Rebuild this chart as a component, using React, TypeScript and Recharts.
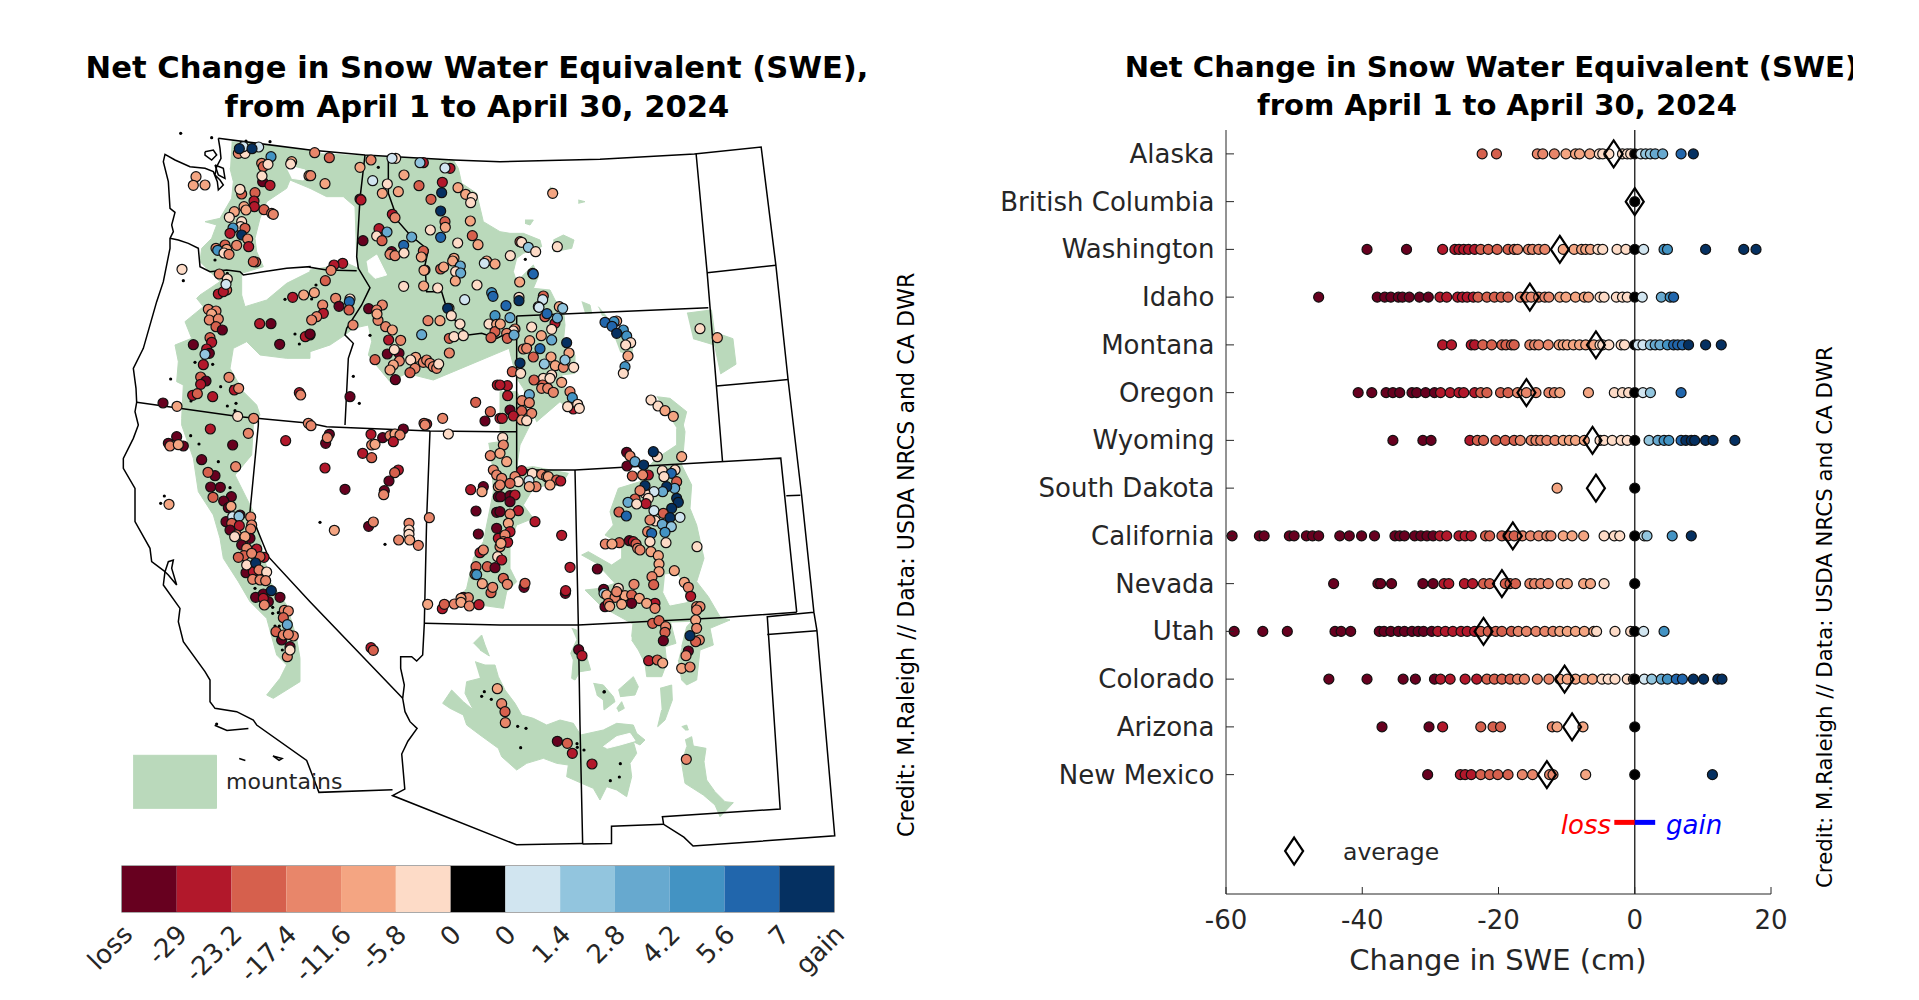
import React from "react";
import { BarChart, Bar, ScatterChart, Scatter, XAxis, YAxis, ReferenceLine, ReferenceArea } from "recharts";

const FONT = "'DejaVu Sans', sans-serif";
const INK = "#262626";
const GREEN = "#bad9bb";

// ---------- colour classes ----------
const binColors = ["#67001f", "#b2182b", "#d6604d", "#e8866a", "#f4a582", "#fddbc7", "#000000", "#d1e5f0", "#92c5de", "#67a9cf", "#4393c3", "#2166ac", "#053061"];
const binLabels = ["loss", "-29", "-23.2", "-17.4", "-11.6", "-5.8", "0", "0", "1.4", "2.8", "4.2", "5.6", "7", "gain"];

// ---------- map sheets (map units are sub-divided per sheet) ----------
const sheets: Record<string, number[]> = {
  A: [360, 375, 1, 1], B: [930, 375, 1, 1], C: [1500, 375, 1, 1],
  D: [360, 1275, 1, 1], E: [930, 1275, 1, 1], F: [1500, 1275, 1, 1],
  G: [1290, 1860, 1, 1],
  Z: [0, 0, 1.84, 1.917],
};
type Seg = [string, number[][]];
const place = (segs: Seg[]) => segs.flatMap(([s, pts]) => pts.map(([x, y]) => {
  const o = sheets[s];
  return { x: o[0] + x * o[2], y: o[1] + y * o[3] };
}));

// ---------- mountains ----------
const mountainAreas: Seg[][] = [
  [["A", [[335,50],[570,75],[570,190],[510,165],[500,190],[440,230],[420,280],[405,340],[410,380],[430,425],[365,445],[365,510],[375,545],[440,525],[500,475],[570,440]]],
   ["B", [[0,435],[60,425],[100,410],[145,430],[180,480],[180,540],[150,590],[110,605],[105,630],[60,660],[0,680]]],
   ["A", [[570,700],[500,700],[420,690],[380,650],[340,670],[330,730],[370,800],[410,840],[420,870],[400,900]]],
   ["D", [[395,90],[345,150],[360,180],[390,240],[400,260],[450,470],[500,540],[530,640],[540,700],[540,770],[460,820],[440,810],[480,760],[500,720],[470,690],[440,580],[390,530],[355,470],[310,400],[300,340],[280,270],[235,200],[220,100],[185,0]]],
   ["A", [[185,880],[190,780],[170,770],[175,710],[165,660],[215,640],[195,590],[250,545],[230,520],[240,510],[300,470],[270,440],[240,410],[245,370],[275,340],[290,300],[255,290],[300,280],[335,220],[340,170],[330,130]]]],
  [["B", [[0,85],[430,105],[445,130],[455,175],[500,205],[520,290],[570,320]]],
   ["C", [[30,325],[70,325],[120,345],[125,365],[70,385],[50,400],[40,440],[50,470],[100,420],[115,455],[100,490],[150,495],[165,525],[190,550],[195,600],[190,650],[225,690],[225,745],[185,750],[200,810],[250,860],[215,860],[180,830],[110,890],[70,790],[50,760],[27,670]]],
   ["B", [[430,740],[370,765],[290,745],[240,770],[190,710],[175,690],[185,650],[175,600],[130,610],[105,630],[110,600],[150,590],[180,540],[180,480],[145,430],[140,395],[135,245],[100,215],[50,215],[0,190]]]],
  [["E", [[535,55],[570,50]]], ["C", [[0,800],[50,800],[100,880]]],
   ["F", [[60,60],[50,130],[100,125],[205,145],[190,170],[100,190],[70,240],[100,280],[50,300],[30,350],[30,430],[50,470],[20,500],[10,550]]],
   ["E", [[440,530],[470,490],[490,400],[520,350],[530,300],[550,200],[545,120]]]],
  [["C", [[470,815],[510,820],[560,860],[550,900]]],
   ["F", [[555,20],[550,80],[545,120],[575,180],[570,250],[590,300],[612,400],[590,470],[625,515],[660,575],[690,585],[395,595],[305,545],[255,495],[300,490],[345,475],[290,415],[245,390],[265,380],[335,420],[365,400],[365,360],[315,330],[340,300],[330,260],[355,190],[420,170],[440,130],[470,100],[530,60],[530,10]]]],
  [["G", [[135,125],[165,135],[195,135],[205,170],[225,210],[255,250],[275,285],[310,295],[350,315],[390,300],[430,310],[452,345],[520,330],[560,310],[610,315],[620,340],[645,360],[630,375],[610,365],[620,400],[600,430],[605,470],[590,530],[560,510],[530,500],[510,540],[490,505],[455,490],[410,470],[415,435],[380,430],[340,415],[290,430],[260,450],[215,410],[205,385],[150,345],[110,315],[100,285],[60,265],[38,250],[65,210],[100,245],[130,270],[105,220],[110,185],[150,175]]]],
  [["G", [[130,70],[155,45],[165,75],[178,108],[150,90]]]],
  [["G", [[425,25],[440,30],[445,100],[470,110],[482,150],[450,155],[435,180],[425,175],[430,120],[422,100],[440,60]]]],
  [["G", [[490,190],[520,195],[550,230],[555,245],[522,270],[520,240],[500,225]]]],
  [["G", [[565,210],[610,170],[625,200],[615,225],[570,230]]]],
  [["G", [[560,265],[575,245],[583,265],[565,275]]]],
  [["G", [[690,205],[725,195],[727,240],[705,300],[683,320],[695,270]]]],
  [["G", [[755,320],[770,315],[775,330],[765,330]]]],
  [["G", [[765,360],[785,350],[790,378],[828,385],[822,425],[830,480],[855,515],[885,545],[910,548],[870,590],[855,555],[820,525],[765,490],[755,430],[770,380]]]],
  [["G", [[605,50],[610,0],[720,0],[738,70],[705,80],[710,130],[695,170],[650,170],[645,130],[625,90],[605,60]]]],
  [["G", [[755,80],[770,20],[790,0],[900,0],[840,25],[850,75],[810,90],[800,180],[770,195],[755,180],[745,120]]]],
  [["Z", [[1120,490],[1160,485],[1165,520],[1195,530],[1200,570],[1175,585],[1165,540],[1130,530]]]],
  [["C", [[150,185],[175,205],[155,220],[145,200]]]],
  [["C", [[75,285],[100,285],[90,300],[75,295]]]],
  [["C", [[160,345],[190,330],[222,345],[215,370],[160,380]]]],
  [["C", [[235,225],[255,230],[235,235]]]],
  [["C", [[245,530],[270,540],[275,565],[255,565]]]],
  [["C", [[295,545],[320,575],[305,570]]]],
  [["C", [[330,600],[400,650],[395,690],[360,680]]]],
  [["Z", [[217,1182],[353,1182],[353,1265],[217,1265]]]],
];
const mountainHoles: Seg[][] = [
  [["B", [[170,410],[200,390],[230,450],[195,460],[175,440]]]],
  [["A", [[495,120],[555,135],[550,165],[515,160]]]],
  [["F", [[495,450],[530,445],[545,470],[560,530],[510,540],[490,500]]]],
  [["G", [[520,380],[560,350],[600,340],[615,362],[570,375],[530,385]]]],
];

// ---------- state lines and shores ----------
const borderLines: Seg[][] = [
  [["A", [[295,40],[570,75]]], ["B", [[165,90],[430,105],[570,110]]], ["C", [[300,103],[583,87]]], ["Z", [[1241,230],[1265,415],[1285,595],[1307,775],[1327,958],[1332,987],[1361,1308],[1130,1324],[1115,1310],[1082,1290],[1080,1278],[1272,1266],[1251,965],[1327,958]]]],
  [["Z", [[1251,993],[1332,987]]]],
  [["Z", [[1082,1290],[997,1293],[997,1320],[950,1321]]]],
  [["A", [[295,40],[300,70],[303,100],[290,125],[285,150],[300,165],[310,180],[295,195],[292,170],[280,140],[255,130],[210,125],[165,105],[135,88],[130,110],[145,170],[150,250],[165,262],[155,300],[160,320],[150,340],[150,370],[130,470],[110,530],[70,670],[40,730],[48,790],[50,832],[45,860]]],
   ["D", [[55,0],[40,40],[10,100],[10,130],[45,190],[45,290],[90,370],[95,410],[135,440],[130,480],[180,550],[175,590],[190,650],[255,740],[270,765],[270,830],[285,850],[350,860],[400,885],[410,900]]],
   ["Z", [[500,1190],[520,1240],[640,1236]]]],
  [["A", [[255,80],[280,75],[290,90],[275,105],[255,90],[255,80]]]],
  [["A", [[285,120],[310,130],[315,160],[295,150],[285,120]]]],
  [["D", [[135,440],[145,410],[160,405],[155,430],[170,480],[145,450],[135,440]]]],
  [["Z", [[350,1135],[370,1143],[405,1140]]]],
  [["Z", [[390,1187],[400,1190]]]],
  [["Z", [[445,1183],[460,1187],[455,1190],[445,1183]]]],
  [["A", [[150,340],[175,345],[205,355],[235,370],[240,425],[270,440],[320,435],[360,440],[370,450],[430,440],[500,430],[570,425]]], ["B", [[0,427],[50,435],[140,437]]]],
  [["B", [[165,90],[150,220],[140,395],[145,430],[180,488],[155,540],[110,610],[105,630],[130,655],[115,700],[105,900]]]],
  [["A", [[50,832],[360,875],[570,895]]], ["E", [[50,5],[360,18],[570,20]]], ["F", [[50,20]]]],
  [["B", [[235,100],[235,205],[265,290],[300,330],[355,375],[345,420],[350,500],[395,500],[410,550],[445,600],[475,630],[515,625],[560,640]]], ["C", [[50,610]]]],
  [["C", [[50,573],[50,900]]], ["F", [[50,135],[225,135]]]],
  [["C", [[50,573],[625,548]]]],
  [["Z", [[1135,241],[1153,427],[1158,485],[1178,722]]]],
  [["Z", [[1153,427],[1265,415]]]],
  [["Z", [[1168,604],[1285,594]]]],
  [["F", [[225,135],[660,110]]], ["Z", [[1273,717],[1299,958]]]],
  [["Z", [[1282,776],[1305,775]]]],
  [["F", [[225,135],[235,600],[240,900]]], ["Z", [[950,1321]]]],
  [["E", [[343,595],[570,600]]], ["F", [[235,600],[660,578]]], ["Z", [[1299,958]]]],
  [["E", [[360,18],[350,280],[343,595],[338,690],[320,708],[305,695],[272,695],[272,730],[283,780],[278,820],[285,860],[300,890]]], ["Z", [[680,1140],[665,1160],[655,1180],[660,1235],[640,1245],[842,1322],[950,1320]]]],
  [["A", [[415,875]]], ["D", [[415,0],[390,260],[445,395],[570,530]]], ["E", [[278,820]]]],
];

// ---------- stations [x, y, class] per sheet ----------
const stationsA = [[182,25,6],[275,38,6],[450,50,6],[378,48,6],[285,405,6],[190,467,6],[322,445,6],[495,523,6],[225,712,6],[278,718,6],[152,762,6],[302,785,6],[525,627,6],[538,657,6],[335,785,6],[322,843,6],[348,835,6],[345,857,6],[213,828,6],
[355,85,3],[375,85,5],[370,65,7],[416,66,7],[358,71,12],[396,71,12],[453,95,10],[425,115,3],[430,125,2],[444,118,5],[515,110,4],[512,117,5],[567,152,4],[428,170,0],[450,181,1],[426,153,5],[228,155,4],[220,181,4],[255,180,4],[365,207,2],[360,193,5],[405,203,2],[402,228,1],[403,245,1],[432,254,2],[455,265,3],[460,268,3],[372,245,4],[378,255,4],[343,260,4],[328,277,5],[365,290,5],[362,305,5],[375,310,2],[339,309,10],[330,325,1],[365,330,12],[383,342,3],[386,365,1],[350,361,3],[315,360,2],[320,373,4],[288,370,3],[293,376,10],[312,384,5],[327,388,3],[407,411,2],[400,410,2],[186,433,5],[298,447,3],[322,462,5],[320,495,2],[295,507,1],[310,500,1],[318,478,7],[518,517,1],[551,510,4],[265,553,3],[288,558,3],[275,567,4],[268,585,3],[295,582,3],[288,605,2],[307,615,0],[419,596,1],[453,596,0],[479,658,0],[570,630,0],[556,635,1],[270,638,2],[275,652,1],[220,659,0],[260,672,1],[268,685,0],[255,688,8],[250,719,1],[327,757,3],[242,756,2],[258,768,0],[242,778,1],[343,795,1],[356,790,3],[218,811,1],[232,806,2],[278,815,1],[538,803,1],[542,810,3],[129,834,0],[171,844,4],[353,874,5],[401,880,3],[565,895,3]];

const stationsB = [[205,127,6],[18,480,6],[5,522,6],[180,631,6],[130,754,6],[148,835,6],
[14,83,3],[58,98,2],[2,152,3],[45,176,4],[183,105,3],[150,127,4],[257,100,5],[246,100,7],[340,113,1],[330,113,8],[420,130,1],[405,129,7],[282,150,4],[188,167,7],[232,177,5],[217,205,4],[265,200,4],[327,182,2],[397,172,1],[395,203,12],[444,188,4],[467,208,4],[487,217,5],[482,233,5],[363,223,2],[150,222,0],[153,225,1],[392,258,12],[405,290,2],[406,307,4],[247,268,1],[255,278,3],[481,288,4],[361,315,5],[392,337,11],[207,311,1],[231,321,9],[200,333,5],[216,347,2],[305,336,9],[159,347,0],[487,332,2],[443,354,5],[504,359,4],[281,361,11],[245,380,0],[240,388,3],[255,392,3],[282,384,5],[340,378,2],[334,396,4],[432,400,4],[428,408,4],[530,408,4],[523,415,7],[555,417,4],[451,423,9],[437,440,5],[452,444,9],[392,432,2],[401,426,4],[345,435,0],[342,436,4],[98,415,1],[72,420,1],[63,436,3],[46,467,2],[13,503,4],[77,520,3],[38,540,3],[120,522,5],[118,530,11],[87,544,0],[117,555,2],[40,565,1],[20,575,3],[5,585,3],[436,468,4],[501,480,5],[281,484,5],[341,483,4],[383,489,5],[545,503,10],[549,514,11],[464,524,7],[417,550,5],[413,550,12],[176,551,0],[217,540,3],[200,555,3],[204,586,3],[201,567,4],[129,600,3],[424,572,5],[354,587,3],[390,587,4],[227,605,3],[247,615,4],[555,572,10],[537,597,5],[560,598,4],[450,597,5],[335,629,9],[555,620,2],[543,638,2],[272,646,3],[236,645,1],[418,640,2],[432,635,5],[460,632,5],[267,685,0],[232,687,0],[253,674,5],[418,684,3],[195,704,2],[268,708,3],[250,720,4],[240,735,4],[317,697,4],[302,705,5],[340,712,3],[350,705,3],[360,715,3],[370,725,3],[380,730,3],[386,717,5],[315,730,3],[300,743,2],[256,764,0],[120,815,0],[562,780,1],[497,832,2],[541,860,2],[398,880,3],[525,888,0],[570,880,1],[350,897,1],[342,895,2],[0,627,0]];

const stationsC = [[158,205,4],[60,350,2],[65,352,5],[85,367,8],[107,380,5],[31,392,5],[172,365,5],[76,403,6],[98,445,2],[100,447,11],[59,471,4],[130,513,2],[57,517,5],[57,527,12],[128,524,7],[115,545,5],[117,547,7],[18,542,11],[178,545,4],[188,550,8],[135,575,2],[141,566,11],[165,595,1],[172,579,9],[30,578,9],[1,597,4],[45,612,3],[40,618,5],[20,625,3],[22,640,2],[42,630,9],[95,606,5],[155,613,5],[124,632,4],[155,645,9],[200,653,12],[89,647,4],[70,672,3],[80,670,3],[120,671,11],[100,696,2],[207,684,4],[153,696,4],[60,714,12],[133,717,8],[166,722,4],[190,727,3],[195,705,8],[221,727,5],[37,740,2],[62,745,5],[155,750,5],[130,760,5],[150,760,5],[102,765,2],[185,772,4],[128,780,2],[125,790,3],[143,790,3],[160,802,3],[210,800,3],[217,818,10],[88,809,9],[22,782,1],[0,780,1],[23,812,1],[66,827,3],[88,833,3],[220,852,1],[203,845,5],[233,838,5],[238,850,5],[30,855,0],[65,858,2],[95,865,3],[7,880,1],[40,873,1],[65,885,4],[80,887,5],[350,588,4],[342,590,10],[315,592,11],[336,604,11],[370,615,10],[380,633,10],[350,625,12],[392,653,5],[377,660,5],[384,693,4],[375,725,10],[370,745,5],[453,825,5],[474,843,5],[495,857,4],[520,874,4],[600,611,5],[652,638,4]];

const stationsD = [[212,32,6],[237,57,6],[295,110,6],[330,188,6],[133,213,6],[122,235,6],[405,490,6],[458,547,6],[475,563,6],[458,565,6],[465,603,6],[478,603,6],[487,675,6],[290,897,6],
[271,12,1],[385,25,3],[497,47,1],[338,60,0],[170,35,0],[145,55,0],[190,63,0],[150,63,3],[175,59,4],[245,104,0],[347,125,3],[285,152,0],[264,142,2],[272,186,0],[301,187,0],[334,215,0],[279,217,2],[311,228,0],[147,238,4],[325,248,0],[333,244,4],[360,270,0],[318,290,0],[338,275,7],[357,274,8],[392,276,3],[395,300,3],[392,312,3],[335,295,2],[330,315,0],[358,302,1],[350,330,3],[390,340,0],[344,335,5],[375,335,4],[365,360,0],[410,372,1],[380,370,3],[372,392,2],[355,397,2],[432,397,1],[420,395,2],[395,385,3],[378,443,0],[400,440,1],[380,420,5],[407,414,12],[417,435,3],[440,441,5],[398,463,3],[420,465,3],[437,467,3],[407,517,0],[430,507,0],[480,517,0],[445,530,0],[430,520,1],[433,540,3],[454,497,12],[493,556,3],[505,558,3],[490,578,2],[502,599,9],[468,620,2],[485,645,0],[490,630,3],[520,633,3],[505,628,3],[510,665,0],[502,695,3],[510,675,5]];

const stationsE = [[30,292,6],[225,358,6],[3,2,3],[280,12,0],[183,28,1],[218,38,0],[240,32,3],[255,27,4],[270,30,3],[250,50,1],[47,55,0],[58,28,0],[52,38,3],[185,60,3],[195,58,4],[158,85,1],[185,98,2],[415,27,5],[345,0,3],[45,129,1],[105,193,0],[265,135,1],[254,143,2],[237,168,0],[223,197,0],[221,209,3],[358,278,3],[176,304,0],[190,291,3],[73,316,4],[297,295,3],[297,315,5],[297,328,5],[299,345,4],[266,345,3],[325,361,3],[482,194,1],[520,185,0],[516,200,4],[541,92,3],[550,135,3],[560,150,3],[565,185,4],[565,215,0],[498,258,0],[560,262,0],[505,327,0],[560,310,0],[510,383,1],[520,375,3],[565,340,1],[570,365,3],[563,395,5],[532,425,2],[555,428,0],[498,425,2],[495,448,3],[500,449,10],[517,476,4],[543,503,2],[548,487,3],[353,538,4],[397,551,1],[403,538,2],[433,537,3],[460,517,0],[475,518,3],[453,520,4],[453,532,4],[478,543,3],[507,539,1],[183,668,1],[190,676,2]];

const stationsF = [[8,38,5],[10,60,3],[20,110,4],[0,85,4],[65,137,1],[97,145,5],[45,155,3],[55,170,5],[87,167,7],[125,148,3],[140,155,3],[145,155,4],[170,165,2],[182,168,1],[150,180,4],[108,185,3],[88,185,4],[5,160,3],[30,175,2],[0,180,3],[2,215,0],[30,212,0],[45,210,1],[30,230,0],[55,257,1],[0,260,0],[30,267,3],[25,295,4],[105,290,1],[30,320,1],[15,330,3],[10,350,3],[23,352,1],[3,355,4],[185,331,1],[210,427,1],[5,405,1],[10,460,2],[22,478,3],[72,487,0],[75,475,2],[196,505,0],[197,497,1],
[380,82,0],[390,93,3],[381,123,0],[405,110,9],[431,120,12],[397,153,2],[445,150,1],[428,150,3],[472,95,5],[460,80,12],[545,95,4],[487,137,5],[525,135,5],[514,145,11],[492,155,5],[530,170,2],[524,190,9],[500,185,12],[488,200,9],[462,200,7],[435,205,5],[435,182,12],[445,220,5],[438,236,1],[420,197,3],[405,222,2],[384,232,9],[410,237,5],[357,261,2],[379,273,11],[530,220,12],[535,232,12],[515,250,12],[462,257,7],[490,265,2],[540,277,7],[510,278,12],[466,288,5],[450,285,3],[487,298,9],[514,305,8],[495,322,10],[443,320,3],[455,325,11],[450,350,5],[498,353,5],[591,365,5],[388,347,0],[400,350,1],[408,357,2],[358,353,2],[316,357,3],[336,357,4],[413,370,3],[420,375,3],[453,380,4],[475,392,4],[477,417,4],[292,432,0],[477,440,4],[456,455,3],[461,479,2],[523,437,4],[553,472,4],[565,487,3],[311,493,0],[312,505,8],[355,490,5],[402,478,3],[320,510,4],[345,517,3],[375,512,4],[395,510,2],[418,520,4],[350,500,3],[395,535,0],[365,538,4],[315,545,0],[325,535,2],[329,544,4],[465,535,1],[440,535,4],[465,550,3],[572,514,1],[590,545,3],[600,545,3],[590,555,3],[587,585,4],[458,595,2],[477,587,2],[497,605,3],[495,622,2],[490,647,0],[590,610,3],[598,645,3],[587,650,2],[570,632,12],[565,678,0],[558,692,3],[236,674,0],[246,692,1],[446,707,1],[472,705,2],[488,714,4],[545,730,4],[570,726,3],[313,800,6]];

const stationsG = [[163,215,6],[155,229,6],[184,238,6],[263,319,6],[288,325,6],[272,383,6],[441,371,6],[442,382,6],[462,390,6],[571,431,6],[568,471,6],[541,482,6],[522,216,6],
[202,206,4],[215,251,3],[225,275,2],[226,308,3],[382,364,0],[412,370,2],[427,400,1],[486,432,1],[769,418,3]];

const stationSheets: [string, number[][]][] = [["A", stationsA], ["B", stationsB], ["C", stationsC], ["D", stationsD], ["E", stationsE], ["F", stationsF], ["G", stationsG]];
const stations = stationSheets.flatMap(([s, list]) => list.map(([x, y, b]) => {
  const o = sheets[s];
  return { x: o[0] + x * o[2], y: o[1] + y * o[3], b };
}));

// ---------- right panel ----------
const regions = ["Alaska", "British Columbia", "Washington", "Idaho", "Montana", "Oregon", "Wyoming", "South Dakota", "California", "Nevada", "Utah", "Colorado", "Arizona", "New Mexico"];
const regionAverages = [-3.1, 0, -11, -15.4, -5.7, -15.9, -6.2, -5.7, -17.9, -19.5, -22.2, -10.3, -9.2, -12.9];

const alaska = [-22.4,-20.3,-14.3,-13.5,-11.8,-10.1,-8.7,-8.1,-6.6,-5.2,-4.7,-3.8,-1.8,-1.1,-0.6,0,0.9,1.6,2.3,3,4.1,6.8,8.6];
const britishColumbia = [0];
const washington = [-39.3,-33.5,-28.2,-26.4,-25.8,-25.1,-24.4,-23.5,-22.6,-21.5,-20.2,-18.6,-17.7,-17.2,-15.6,-15,-14.1,-13.2,-10.5,-8.9,-7.8,-7.2,-6.5,-5.4,-4.7,-2.6,-1.3,0,1.3,4.3,4.8,10.4,16,17.8];
const idaho = [-46.4,-37.8,-36.7,-35.8,-34.7,-34.1,-33.1,-31.6,-30.3,-28.6,-27.6,-26,-25.3,-24.6,-23.7,-23,-21.7,-20.6,-19.6,-18.6,-16.8,-15.9,-15.2,-14.1,-13.2,-12.6,-11,-10.1,-8.7,-7.4,-6.8,-5.1,-4.5,-2.7,-1.8,-1.1,0,1.1,3.9,5.2,5.7];
const montana = [-28.2,-26.9,-24,-23.5,-22.3,-21,-19.5,-18.9,-18.1,-17.7,-15.4,-14.7,-14.1,-12.7,-11.1,-10.5,-9.9,-9,-8.1,-7.2,-6,-5.1,-4.7,-3.8,-2,-1.5,0,0.5,1.2,2.3,3,3.7,4.8,5.7,6.3,7,7.9,10.4,12.7];
const oregon = [-40.6,-38.6,-36.5,-35.5,-34.5,-32.7,-32,-30.7,-29.4,-28.5,-27.1,-25.8,-25.1,-23.5,-22.6,-21.7,-19.7,-18.6,-17.2,-15.9,-14.5,-12.6,-11.8,-11,-6.8,-3,-1.8,-0.9,0,1.2,2.3,6.8];
const wyoming = [-35.5,-31.1,-29.9,-24.2,-23.1,-22.2,-20.4,-19,-17.7,-16.8,-15.2,-14.5,-13.8,-12.9,-11.7,-10.5,-9.6,-8.7,-7.4,-5.1,-4.5,-3.3,-2,-1.1,0,2.1,3.4,4.3,5,6.8,7.5,8.3,8.8,10.4,11.5,14.7];
const southDakota = [-11.4,0];
const california = [-59.1,-55.1,-54.4,-50.7,-50,-48.2,-47.3,-46.4,-43.3,-41.9,-40.1,-38.2,-35.2,-34.5,-33.8,-32.3,-31.4,-30.5,-29.6,-28.6,-27.6,-25.8,-24.9,-24,-21.9,-21.3,-19.5,-18.6,-17.7,-16.5,-15.3,-14.1,-12.9,-12.3,-10.5,-9.2,-7.5,-4.5,-3,-2.2,0,1.4,1.8,5.5,8.3];
const nevada = [-44.2,-37.7,-37.3,-35.7,-31.1,-29.6,-28,-27.3,-25,-23.8,-22.2,-21.3,-19,-18.3,-17.5,-15.4,-14.7,-13.8,-12.7,-10.8,-9.9,-7.5,-6.5,-4.5,0];
const utah = [-58.8,-54.6,-51,-44,-43.1,-41.7,-37.5,-36.8,-35.8,-34.7,-33.8,-32.7,-31.8,-31,-29.8,-28.9,-27.8,-26.7,-25.5,-24.6,-23.5,-22.6,-21.5,-20.4,-19.5,-18.1,-17.1,-15.9,-14.5,-13.2,-12,-11,-9.9,-8.7,-7.4,-6,-5.6,-2.9,-0.6,0,1.3,4.3];
const colorado = [-44.9,-39.3,-34,-32.2,-29.4,-28.5,-27.1,-24.9,-23.2,-21.7,-20.6,-19.5,-18.3,-17.2,-16.2,-14.3,-12.6,-11,-9.9,-8.7,-7.4,-6.2,-4.8,-3.9,-2.9,-1.1,-0.2,0,1.4,2.5,3.9,4.8,6.1,7,8.6,10.1,12.2,12.8];
const arizona = [-37.1,-30.2,-28.2,-22.6,-20.8,-19.7,-12.1,-11.4,-7.6,0];
const newMexico = [-30.4,-25.6,-24.9,-24,-22.6,-21.3,-20.1,-18.6,-16.5,-15,-12.5,-12,-7.2,0,11.4];
const regionValues = [alaska, britishColumbia, washington, idaho, montana, oregon, wyoming, southDakota, california, nevada, utah, colorado, arizona, newMexico];

const xTicks = [-60, -40, -20, 0, 20];
const binEdges = [-29, -23.2, -17.4, -11.6, -5.8];
const gainEdges = [1.4, 2.8, 4.2, 5.6, 7];
const binOf = (v: number) => {
  if (v === 0) return 6;
  if (v < 0) { const i = binEdges.findIndex((e) => v <= e); return i < 0 ? 5 : i; }
  const j = gainEdges.findIndex((e) => v <= e);
  return j < 0 ? 12 : 7 + j;
};

const Nothing = () => <g />;

const StationDot = (p: any) => {
  const b = p.payload?.b ?? p.b;
  if (b === 6) return <circle cx={p.cx} cy={p.cy} r={1.6} fill="#000" />;
  return <circle cx={p.cx} cy={p.cy} r={5} fill={binColors[b]} stroke="#111" strokeWidth={1.2} />;
};
const ValueDot = (p: any) => {
  const v = p.payload?.x ?? 0;
  return <circle cx={p.cx} cy={p.cy} r={5} fill={binColors[binOf(v)]} stroke="#111" strokeWidth={1.2} />;
};
const Diamond = (p: any) => (
  <path d={`M${p.cx} ${p.cy - 13.5}L${p.cx + 9} ${p.cy}L${p.cx} ${p.cy + 13.5}L${p.cx - 9} ${p.cy}Z`} fill="none" stroke="#000" strokeWidth={2.2} />
);

const MapChart = () => (
  <ScatterChart width={960} height={1000} margin={{ top: 0, right: 0, bottom: 0, left: 0 }} style={{ position: "absolute", left: 0, top: 0 }}>
    <XAxis type="number" dataKey="x" domain={[0, 2880]} hide allowDataOverflow />
    <YAxis type="number" dataKey="y" domain={[0, 3000]} reversed hide allowDataOverflow />
    {mountainAreas.map((a, i) => (
      <Scatter key={"m" + i} data={place(a)} isAnimationActive={false} shape={Nothing} line={{ fill: GREEN, stroke: GREEN, strokeWidth: 1 }} />
    ))}
    {mountainHoles.map((a, i) => (
      <Scatter key={"h" + i} data={place(a)} isAnimationActive={false} shape={Nothing} line={{ fill: "#ffffff", stroke: "#ffffff", strokeWidth: 1 }} />
    ))}
    {borderLines.map((a, i) => (
      <Scatter key={"b" + i} data={place(a)} isAnimationActive={false} shape={Nothing} line={{ fill: "none", stroke: "#000", strokeWidth: 1.5 }} />
    ))}
    <Scatter data={stations} isAnimationActive={false} shape={StationDot} />
  </ScatterChart>
);

const colorRow = [Object.fromEntries(binColors.map((_, i) => ["c" + i, 1]).concat([["name", "bar"] as any]))];
const colorTicks = binLabels.map((_, i) => i);
const ColorTick = (p: any) => (
  <text x={p.x + 12} y={p.y + 16} transform={`rotate(-45 ${p.x + 12} ${p.y + 16})`} textAnchor="end" fontFamily={FONT} fontSize={26} fill={INK}>
    {binLabels[p.payload.value]}
  </text>
);
const ColorBar = () => (
  <BarChart layout="vertical" width={850} height={130} data={colorRow} margin={{ top: 8, right: 76, bottom: 0, left: 62 }} barCategoryGap={0} style={{ position: "absolute", left: 60, top: 858 }}>
    <XAxis type="number" domain={[0, 13]} ticks={colorTicks} interval={0} height={76} tick={ColorTick} tickLine={false} axisLine={false} />
    <YAxis type="category" dataKey="name" hide />
    {binColors.map((c, i) => (
      <Bar key={c} dataKey={"c" + i} stackId="s" fill={c} isAnimationActive={false} />
    ))}
    <ReferenceArea x1={0} x2={13} fill="none" stroke="#555" strokeWidth={1.2} />
  </BarChart>
);

const YTick = (p: any) => (
  <g>
    <line x1={p.x + 8} x2={p.x + 16} y1={p.y} y2={p.y} stroke={INK} strokeWidth={1} />
    <text x={p.x - 3.5} y={p.y + 9} textAnchor="end" fontFamily={FONT} fontSize={26} fill={INK}>{regions[p.payload.value]}</text>
  </g>
);
const XTick = (p: any) => (
  <g>
    <line x1={p.x} x2={p.x} y1={p.y - 8} y2={p.y - 15} stroke={INK} strokeWidth={1} />
    <text x={p.x} y={p.y + 27} textAnchor="middle" fontFamily={FONT} fontSize={26} fill={INK}>{p.payload.value}</text>
  </g>
);

const rowIdx = regions.map((_, i) => i);
const DotsChart = () => (
  <ScatterChart width={959} height={1000} margin={{ top: 130, right: 148, bottom: 46, left: 26 }} style={{ position: "absolute", left: 960, top: 0 }}>
    <XAxis type="number" dataKey="x" domain={[-60, 20]} ticks={xTicks} interval={0} height={60} tick={XTick} tickLine={false} axisLine={{ stroke: INK }} />
    <YAxis type="number" dataKey="y" domain={[-0.5, 15.5]} ticks={rowIdx} interval={0} reversed width={240} tick={YTick} tickLine={false} axisLine={{ stroke: INK }} />
    <ReferenceLine x={0} stroke={INK} strokeWidth={1.4} />
    {regionValues.map((vals, i) => (
      <Scatter key={regions[i]} data={vals.map((x) => ({ x, y: i }))} isAnimationActive={false} shape={ValueDot} />
    ))}
    <Scatter data={regionAverages.map((x, i) => ({ x, y: i })).concat([{ x: -50, y: 14.6 }])} isAnimationActive={false} shape={Diamond} />
    <Scatter data={[{ x: -3, y: 14 }, { x: 0, y: 14 }]} isAnimationActive={false} shape={Nothing} line={{ stroke: "#ff0000", strokeWidth: 5 }} />
    <Scatter data={[{ x: 0, y: 14 }, { x: 3, y: 14 }]} isAnimationActive={false} shape={Nothing} line={{ stroke: "#0000ff", strokeWidth: 5 }} />
  </ScatterChart>
);

const Texts = () => (
  <svg width={1919} height={1000} style={{ position: "absolute", left: 0, top: 0, pointerEvents: "none" }} fontFamily={FONT}>
    <defs>
      <clipPath id="rt"><rect x={1000} y={30} width={853} height={110} /></clipPath>
    </defs>
    <g fontWeight="bold" fontSize={30.6} fill="#000" textAnchor="middle">
      <text x={477} y={78}>Net Change in Snow Water Equivalent (SWE),</text>
      <text x={477} y={117}>from April 1 to April 30, 2024</text>
    </g>
    <g fontWeight="bold" fontSize={29.1} fill="#000" textAnchor="middle" clipPath="url(#rt)">
      <text x={1497} y={77}>Net Change in Snow Water Equivalent (SWE),</text>
      <text x={1497} y={114.5}>from April 1 to April 30, 2024</text>
    </g>
    <text x={226} y={789} fontSize={22} fill={INK}>mountains</text>
    <text x={1343} y={860} fontSize={23.5} fill={INK}>average</text>
    <text x={1611} y={834} fontSize={26} fontStyle="italic" fill="#ff0000" textAnchor="end">loss</text>
    <text x={1666} y={834} fontSize={26} fontStyle="italic" fill="#0000ff">gain</text>
    <text x={1498} y={970} fontSize={29} fill={INK} textAnchor="middle">Change in SWE (cm)</text>
    <text transform="translate(914 837) rotate(-90)" fontSize={22.2} fill="#000">Credit: M.Raleigh // Data: USDA NRCS and CA DWR</text>
    <text transform="translate(1832 888) rotate(-90)" fontSize={21.3} fill="#000">Credit: M.Raleigh // Data: USDA NRCS and CA DWR</text>
  </svg>
);

export default function App() {
  return (
    <div style={{ position: "absolute", left: 0, top: 0, width: 1919, height: 1000, background: "#fff", overflow: "hidden" }}>
      <MapChart />
      <ColorBar />
      <DotsChart />
      <Texts />
    </div>
  );
}
